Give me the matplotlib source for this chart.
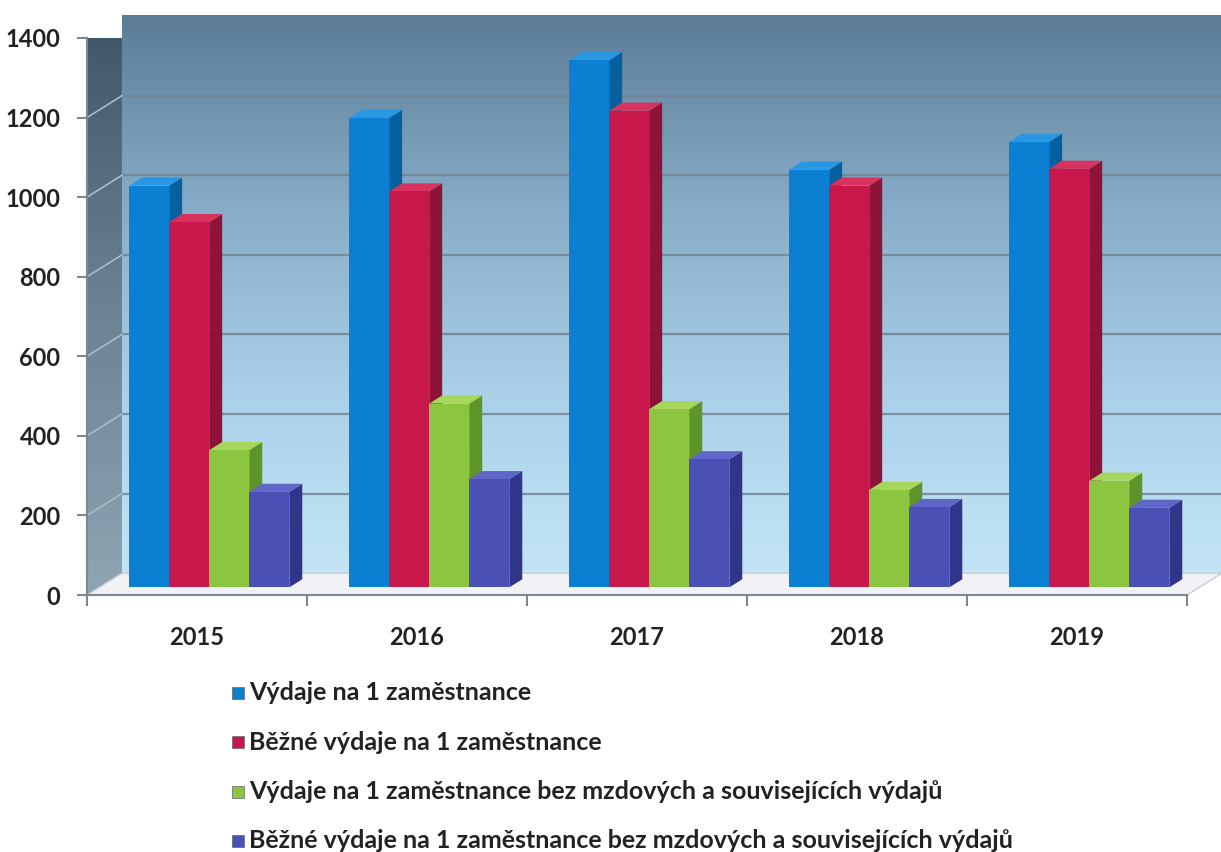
import numpy as np
import matplotlib.pyplot as plt
from matplotlib.patches import Polygon, Rectangle
from matplotlib.colors import LinearSegmentedColormap

plt.rcParams['font.family'] = ['Lato', 'DejaVu Sans']

years = ['2015', '2016', '2017', '2018', '2019']
vydaje = [1010, 1180, 1325, 1050, 1120]
bezne = [918, 995, 1198, 1010, 1052]
vydaje_bez_mezd = [345, 462, 448, 245, 268]
bezne_bez_mezd = [240, 272, 322, 202, 200]
series_labels = [
    'Výdaje na 1 zaměstnance',
    'Běžné výdaje na 1 zaměstnance',
    'Výdaje na 1 zaměstnance bez mzdových a souvisejících výdajů',
    'Běžné výdaje na 1 zaměstnance bez mzdových a souvisejících výdajů',
]
y_ticks = [0, 200, 400, 600, 800, 1000, 1200, 1400]

front_colors = ['#0b7fd2', '#c8184b', '#8cc641', '#4a50b4']
side_colors = ['#06609f', '#8f1238', '#5e952b', '#30358a']
top_colors = ['#2a97e3', '#d9325f', '#a6d65c', '#6065c8']

series = [vydaje, bezne, vydaje_bez_mezd, bezne_bez_mezd]

fig = plt.figure(figsize=(12.21, 8.52), dpi=100)
fig.patch.set_facecolor('white')
ax = fig.add_axes([0.07125, 0.3016, 0.9009, 0.6538])

XMIN, XMAX, YMAX = -0.5, 4.5, 1400
DX, DY = 0.159, 55.0          # depth offset of the back wall (data units)
d0, d1 = 0.35, 0.72           # front / back depth fraction of the bars
bw = 0.182                    # bar width

# back wall with vertical gradient
wall_cmap = LinearSegmentedColormap.from_list(
    'wall', ['#c3e4f5', '#a9d0e8', '#86abc6', '#5c7c96'])
grad = np.linspace(0, 1, 256).reshape(-1, 1)
im = ax.imshow(grad, cmap=wall_cmap, origin='lower', aspect='auto',
               extent=[XMIN + DX, XMAX + DX, DY, YMAX + DY], zorder=0)
im.set_clip_on(False)

# left side wall
side_cmap = LinearSegmentedColormap.from_list(
    'side', ['#8ea5b4', '#6a8292', '#3d5567'])
side_poly = Polygon([(XMIN, 0), (XMIN + DX, DY), (XMIN + DX, YMAX + DY),
                     (XMIN, YMAX)], closed=True, facecolor='none',
                    edgecolor='none', transform=ax.transData)
ax.add_patch(side_poly)
side_poly.set_clip_on(False)
im2 = ax.imshow(grad, cmap=side_cmap, origin='lower', aspect='auto',
                extent=[XMIN, XMIN + DX, 0, YMAX + DY], zorder=0.5)
im2.set_clip_path(side_poly)

# gridlines on back and side walls
for v in y_ticks[1:-1]:
    ax.plot([XMIN + DX, XMAX + DX], [v + DY, v + DY], color='#6f8595',
            lw=1.6, zorder=1, clip_on=False, alpha=0.85)
    ax.plot([XMIN, XMIN + DX], [v, v + DY], color='#a9bcc8',
            lw=1.2, zorder=1, clip_on=False)

# floor
floor = Polygon([(XMIN, 0), (XMAX, 0), (XMAX + DX, DY), (XMIN + DX, DY)],
                closed=True, facecolor='#f1f2f5', edgecolor='#c7ccd3',
                lw=1.0, zorder=1.5, clip_on=False)
ax.add_patch(floor)

# bars with top and side faces
offsets = (np.arange(4) - 1.5) * bw
for k, (vals, fc, sc, tc) in enumerate(zip(series, front_colors,
                                            side_colors, top_colors)):
    xs = np.arange(len(years)) + offsets[k] - bw / 2 + d0 * DX
    z = 3 + k
    ax.bar(xs, vals, width=bw, bottom=d0 * DY, align='edge', color=fc,
           edgecolor='none', zorder=z + 0.2, clip_on=False)
    ddx, ddy = (d1 - d0) * DX, (d1 - d0) * DY
    for x0, v in zip(xs, vals):
        y0 = d0 * DY
        side = Polygon([(x0 + bw, y0), (x0 + bw + ddx, y0 + ddy),
                        (x0 + bw + ddx, y0 + v + ddy), (x0 + bw, y0 + v)],
                       closed=True, facecolor=sc, edgecolor='none',
                       zorder=z, clip_on=False)
        top = Polygon([(x0, y0 + v), (x0 + bw, y0 + v),
                       (x0 + bw + ddx, y0 + v + ddy), (x0 + ddx, y0 + v + ddy)],
                      closed=True, facecolor=tc, edgecolor='none',
                      zorder=z + 0.1, clip_on=False)
        ax.add_patch(side)
        ax.add_patch(top)

ax.set_xlim(XMIN, XMAX)
ax.set_ylim(0, YMAX)

for s in ['top', 'right']:
    ax.spines[s].set_visible(False)
for s in ['left', 'bottom']:
    ax.spines[s].set_color('#7d8790')
    ax.spines[s].set_linewidth(1.5)
    ax.spines[s].set_zorder(2)

ax.set_yticks(y_ticks)
ax.set_yticklabels([str(t) for t in y_ticks], fontsize=17, fontweight='bold',
                   color='#222222')
ax.tick_params(axis='y', length=7, width=1.5, color='#7d8790', pad=12)

ax.set_xticks(np.arange(XMIN, XMAX + 0.01, 1.0))
ax.set_xticklabels([])
ax.set_xticks(np.arange(len(years)), minor=True)
ax.set_xticklabels(years, minor=True, fontsize=17, fontweight='bold',
                   color='#222222')
ax.tick_params(axis='x', which='major', length=8, width=1.5,
               color='#7d8790', direction='out')
ax.tick_params(axis='x', which='minor', length=0, pad=22)

# legend rows
leg_x, leg_y0, leg_dy = 238 / 1221, 1 - 693 / 852, 49.3 / 852
for i, (lab, fc) in enumerate(zip(series_labels, front_colors)):
    yc = leg_y0 - i * leg_dy
    fig.add_artist(Rectangle((leg_x - 6 / 1221, yc - 6 / 852), 12 / 1221,
                             12 / 852, transform=fig.transFigure,
                             facecolor=fc, edgecolor='#666666', lw=0.5))
    fig.text(leg_x + 11 / 1221, yc, lab, fontsize=18, fontweight='bold',
             color='#222222', va='center', ha='left')

fig.savefig('out.png', dpi=100, facecolor='white')
